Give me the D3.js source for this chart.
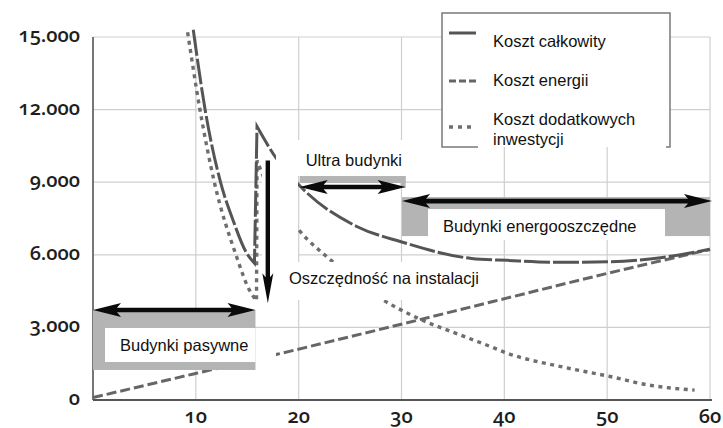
<!DOCTYPE html>
<html>
<head>
<meta charset="utf-8">
<script src="https://cdn.jsdelivr.net/npm/d3@7"></script>
<style>
  html, body { margin: 0; padding: 0; background: #fff; }
  svg { display: block; }
  .tick-label { font-family: "Open Sans", "Noto Sans", sans-serif; font-weight: 600; font-size: 20px; fill: #1e1e1e; font-variant-numeric: oldstyle-nums; font-feature-settings: "onum" 1; }
  .note { font-family: "Liberation Sans", Arial, sans-serif; font-size: 16.5px; fill: #111; }
</style>
</head>
<body>
<svg id="chart" width="723" height="428"></svg>
<script>
// Axis ticks
const xTicks = [10, 20, 30, 40, 50, 60];
const xTickLabels = ["10", "20", "30", "40", "50", "60"];
const yTicks = [0, 3000, 6000, 9000, 12000, 15000];
const yTickLabels = ["0", "3.000", "6.000", "9.000", "12.000", "15.000"];

// Koszt całkowity: before and after the step at x ≈ 16
const totalBefore = [[9.75, 15300], [10.9, 12000], [12.4, 9000], [13.6, 7450], [14.9, 6100], [15.7, 5650]];
const totalAfter = [[15.95, 11300], [17.8, 10000], [20.2, 8810], [25.7, 7160], [29.95, 6540], [36.8, 5850],
                    [40.3, 5770], [45.4, 5690], [50.2, 5710], [55.2, 5880], [60, 6230]];

// Koszt energii
const energy = [[0, 100], [11, 1200], [18, 1900], [29, 3030], [39, 4080], [50, 5230], [60, 6220]];

// Koszt dodatkowych inwestycji
const investBefore = [[9.2, 15200], [10.4, 12000], [11.8, 9000], [13.9, 6000], [15.2, 4550], [15.9, 4100]];
const investAfter = [[15.95, 9900], [16.5, 9300], [20.2, 6940], [23.1, 5790], [27.7, 4270], [31.6, 3380],
                     [35.7, 2690], [38.7, 2200], [40.3, 1930], [45.5, 1380], [50.4, 960], [54, 620], [58.5, 410]];

// Legend entries
const legendNames = ["Koszt całkowity", "Koszt energii", "Koszt dodatkowych|inwestycji"];

// Building-standard ranges [x0, x1] with the arrow level (value)
const rangeLabels = ["Budynki pasywne", "Ultra budynki", "Budynki energooszczędne"];
const rangeSpans = [[0, 15.8], [20.1, 30.4], [30.05, 60]];
const rangeLevels = [3720, 8800, 8220];

// Savings arrow: x position, from value, to value
const savingLabel = "Oszczędność na instalacji";
const savingArrow = [17.0, 9900, 4000];

const svg = d3.select("#chart");
const x = d3.scaleLinear().domain([0, 60]).range([93, 710]);
const y = d3.scaleLinear().domain([0, 15000]).range([400, 37]);

// grid
const grid = svg.append("g");
grid.selectAll("line.h").data(yTicks.filter(d => d > 0)).join("line")
  .attr("x1", x(0)).attr("x2", x(60)).attr("y1", d => y(d)).attr("y2", d => y(d))
  .attr("stroke", "#cfcfcf").attr("stroke-width", 1.2);
grid.selectAll("line.v").data(xTicks).join("line")
  .attr("x1", d => x(d)).attr("x2", d => x(d)).attr("y1", y(15000)).attr("y2", y(0))
  .attr("stroke", "#cfcfcf").attr("stroke-width", 1.2);

// axes lines
svg.append("line").attr("x1", x(0)).attr("x2", x(0)).attr("y1", y(15000)).attr("y2", y(0))
  .attr("stroke", "#555").attr("stroke-width", 1.6);
svg.append("line").attr("x1", x(0)).attr("x2", x(60) + 2).attr("y1", y(0)).attr("y2", y(0))
  .attr("stroke", "#555").attr("stroke-width", 2);

// tick labels
svg.selectAll("text.yl").data(yTicks).join("text").attr("class", "tick-label")
  .attr("x", 80).attr("y", d => y(d) + 5).attr("text-anchor", "end")
  .text((d, i) => yTickLabels[i]);
svg.selectAll("text.xl").data(xTicks).join("text").attr("class", "tick-label")
  .attr("x", d => x(d)).attr("y", 423).attr("text-anchor", "middle")
  .text((d, i) => xTickLabels[i]);

// curves
const line = d3.line().x(d => x(d[0])).y(d => y(d[1])).curve(d3.curveMonotoneX);
const stepped = (a, b) => line(a) + line(b).replace(/^M/, "L");

const curves = svg.append("g").attr("fill", "none").attr("stroke-linecap", "butt");
curves.append("path").attr("d", stepped(investBefore, investAfter))
  .attr("stroke", "#6e6e6e").attr("stroke-width", 3.4).attr("stroke-dasharray", "4,4.5");
curves.append("path").attr("d", line(energy))
  .attr("stroke", "#666").attr("stroke-width", 3).attr("stroke-dasharray", "10,4");
curves.append("path").attr("d", stepped(totalBefore, totalAfter))
  .attr("stroke", "#555").attr("stroke-width", 3).attr("stroke-dasharray", "26,3");

// label backings
const backs = svg.append("g").attr("fill", "#fff");
backs.append("rect").attr("x", 276).attr("y", 140).attr("width", 134).attr("height", 36);
backs.append("rect").attr("x", 262).attr("y", 162).attr("width", 36).attr("height", 148);
backs.append("rect").attr("x", 255).attr("y", 338).attr("width", 21).attr("height", 34);
backs.append("rect").attr("x", 280).attr("y", 262).attr("width", 212).attr("height", 38);

// double-headed horizontal arrow
function hArrow(g, x0, x1, yy) {
  const L = 28, H = 7, t = 2.3;
  const p = d3.path();
  p.moveTo(x0, yy); p.lineTo(x0 + L, yy - H); p.lineTo(x0 + L - 4, yy - t);
  p.lineTo(x1 - L + 4, yy - t); p.lineTo(x1 - L, yy - H); p.lineTo(x1, yy);
  p.lineTo(x1 - L, yy + H); p.lineTo(x1 - L + 4, yy + t); p.lineTo(x0 + L - 4, yy + t);
  p.lineTo(x0 + L, yy + H); p.closePath();
  g.append("path").attr("d", p.toString()).attr("fill", "#0a0a0a");
}

const ann = svg.append("g");
const grey = "#b4b4b4";

// Budynki pasywne
{
  const [a, b] = rangeSpans[0], yy = y(rangeLevels[0]);
  ann.append("rect").attr("x", x(a)).attr("y", yy).attr("width", x(b) - x(a)).attr("height", 60).attr("fill", grey);
  ann.append("rect").attr("x", x(a) + 12).attr("y", yy + 18).attr("width", x(b) - x(a) - 12).attr("height", 34).attr("fill", "#fff");
  hArrow(ann, x(a), x(b), yy);
  ann.append("text").attr("class", "note").attr("x", x(a) + 27).attr("y", yy + 41).text(rangeLabels[0]);
}
// Ultra budynki
{
  const [a, b] = rangeSpans[1], yy = y(rangeLevels[1]);
  ann.append("rect").attr("x", x(a)).attr("y", yy - 11).attr("width", x(b) - x(a)).attr("height", 7).attr("fill", grey);
  ann.append("rect").attr("x", x(b) - 5).attr("y", yy - 11).attr("width", 5).attr("height", 12).attr("fill", grey);
  hArrow(ann, x(a), x(b), yy);
  ann.append("text").attr("class", "note").attr("x", x(a) + 6).attr("y", yy - 21).text(rangeLabels[1]);
}
// Budynki energooszczędne
{
  const [a, b] = rangeSpans[2], yy = y(rangeLevels[2]);
  ann.append("rect").attr("x", x(a)).attr("y", yy - 4).attr("width", x(b) - x(a)).attr("height", 39).attr("fill", grey);
  ann.append("rect").attr("x", x(a) + 26).attr("y", yy + 8).attr("width", 237).attr("height", 31).attr("fill", "#fff");
  hArrow(ann, x(a), x(b) + 2, yy);
  ann.append("text").attr("class", "note").attr("x", x(a) + 41).attr("y", yy + 31).text(rangeLabels[2]);
}
// Oszczędność na instalacji
{
  const [xx, v0, v1] = savingArrow;
  const px = x(xx), y0 = y(v0), y1 = y(v1);
  const p = d3.path();
  p.moveTo(px - 2.2, y0); p.lineTo(px + 2.2, y0); p.lineTo(px + 2.2, y1 - 26);
  p.lineTo(px + 5.5, y1 - 30); p.lineTo(px, y1); p.lineTo(px - 5.5, y1 - 30);
  p.lineTo(px - 2.2, y1 - 26); p.closePath();
  ann.append("path").attr("d", p.toString()).attr("fill", "#0a0a0a");
  ann.append("text").attr("class", "note").attr("x", 289).attr("y", 284).text(savingLabel);
}

// legend
const lg = svg.append("g");
lg.append("rect").attr("x", 442).attr("y", 13).attr("width", 228).attr("height", 134).attr("fill", "#fff");
lg.append("path").attr("d", "M478,147 H442 V13 H670 V147 H666").attr("fill", "none")
  .attr("stroke", "#7a7a7a").attr("stroke-width", 1.5);
const legStyles = [
  { c: "#555", d: null, w: 3 },
  { c: "#666", d: "7,3", w: 3 },
  { c: "#6e6e6e", d: "4,5", w: 3.4 }
];
const legLineY = [33, 81, 127];
const legTextY = [47, 86, 125];
legendNames.forEach((n, i) => {
  lg.append("line").attr("x1", 449).attr("x2", 476).attr("y1", legLineY[i]).attr("y2", legLineY[i])
    .attr("stroke", legStyles[i].c).attr("stroke-width", legStyles[i].w)
    .attr("stroke-dasharray", legStyles[i].d);
  n.split("|").forEach((part, k) => {
    lg.append("text").attr("class", "note").attr("x", 493).attr("y", legTextY[i] + k * 20).text(part);
  });
});
</script>
</body>
</html>
